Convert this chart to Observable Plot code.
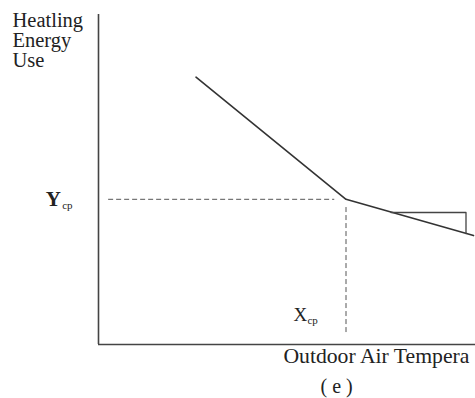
<!DOCTYPE html>
<html>
<head>
<meta charset="utf-8">
<script src="https://cdn.jsdelivr.net/npm/d3@7"></script>
<script src="https://cdn.jsdelivr.net/npm/@observablehq/plot@0.6"></script>
<style>
  html, body { margin: 0; padding: 0; background: #fff; }
</style>
</head>
<body>
<div id="chart"></div>
<script>
// Abstract units: temperature 0..100, energy use 0..100
const curveX = [26, 66, 100];
const curveY = [81, 44, 33];
const changePointX = 66;
const changePointY = 44;
const slopeTriX = [78, 98, 98];
const slopeTriY = [40, 40, 33.6];
const yLabel = "Heatling\nEnergy\nUse";
const xLabel = "Outdoor Air Tempera";
const caption = "( e )";

const curve = curveX.map((x, i) => ({x, y: curveY[i]}));
const tri = slopeTriX.map((x, i) => ({x, y: slopeTriY[i]}));

const serif = "Liberation Serif, Times New Roman, serif";

const chart = Plot.plot({
  width: 475,
  height: 398,
  marginLeft: 98,
  marginRight: 2,
  marginTop: 14,
  marginBottom: 54,
  x: {domain: [0, 100], axis: null},
  y: {domain: [0, 100], axis: null},
  style: {background: "#fff", fontFamily: serif, overflow: "visible"},
  marks: [
    // axes
    Plot.ruleX([0], {y1: 0, y2: 100, stroke: "#444", strokeWidth: 1.6}),
    Plot.ruleY([0], {x1: 0, x2: 101, stroke: "#444", strokeWidth: 1.6}),
    // change-point guides
    Plot.ruleY([changePointY], {x1: 2.7, x2: 63, stroke: "#555", strokeWidth: 1, strokeDasharray: "5,3"}),
    Plot.ruleX([changePointX], {y1: 41.5, y2: 3.3, stroke: "#555", strokeWidth: 1, strokeDasharray: "5,3"}),
    // curve
    Plot.line(curve, {x: "x", y: "y", stroke: "#333", strokeWidth: 1.6}),
    // slope triangle
    Plot.line(tri, {x: "x", y: "y", stroke: "#444", strokeWidth: 1.3}),
    // labels
    Plot.text([yLabel], {frameAnchor: "top-left", dx: -86, dy: -2, text: d => d, textAnchor: "start", lineAnchor: "top", lineHeight: 0.98, fontSize: 20.5, fill: "#222"}),
    Plot.text(["Y"], {x: -14.1, y: changePointY, text: d => d, textAnchor: "start", fontSize: 21, fontWeight: "bold", fill: "#222"}),
    Plot.text(["cp"], {x: -9.7, y: changePointY, dy: 6, text: d => d, textAnchor: "start", fontSize: 11, fill: "#222"}),
    Plot.text(["X"], {x: 52, y: 9, text: d => d, textAnchor: "start", fontSize: 19, fill: "#222"}),
    Plot.text(["cp"], {x: 55.7, y: 9, dy: 6, text: d => d, textAnchor: "start", fontSize: 11, fill: "#222"}),
    Plot.text([xLabel], {x: 49.3, y: -3.6, text: d => d, textAnchor: "start", fontSize: 21.7, fill: "#222"}),
    Plot.text([caption], {x: 63.5, y: -12.7, text: d => d, textAnchor: "middle", fontSize: 20, fill: "#222"})
  ]
});
document.getElementById("chart").appendChild(chart);
</script>
</body>
</html>
